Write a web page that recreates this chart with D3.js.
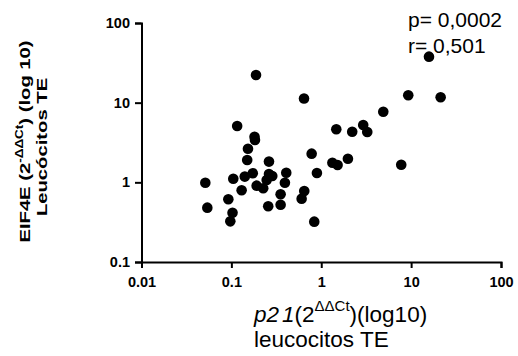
<!DOCTYPE html>
<html>
<head>
<meta charset="utf-8">
<script src="https://cdn.jsdelivr.net/npm/d3@7"></script>
<style>
  html, body { margin: 0; padding: 0; background: #fff; }
  svg { display: block; font-family: "Liberation Sans", Arial, sans-serif; }
</style>
</head>
<body>
<svg id="chart" width="518" height="356"></svg>
<script>
// p21 relative expression (x) and EIF4E relative expression (y), leucocitos TE
const p21 = [15.8, 0.188, 0.643, 9.29, 21.3, 4.90, 0.116, 1.47, 2.21, 2.93, 3.25,
  0.181, 0.183, 0.153, 0.150, 0.782, 0.262, 1.33, 1.52, 1.98, 7.76, 0.895, 0.408,
  0.394, 0.0513, 0.105, 0.141, 0.173, 0.262, 0.285, 0.247, 0.191, 0.226, 0.130,
  0.353, 0.647, 0.605, 0.0925, 0.054, 0.257, 0.353, 0.103, 0.0973, 0.836];
const eif4e = [37.8, 22.2, 11.3, 12.4, 11.7, 7.7, 5.09, 4.63, 4.32, 5.24, 4.28,
  3.74, 3.40, 2.64, 1.91, 2.29, 1.82, 1.76, 1.65, 1.98, 1.66, 1.31, 1.32,
  0.99, 0.99, 1.11, 1.18, 1.30, 1.27, 1.20, 1.07, 0.908, 0.841, 0.794,
  0.708, 0.778, 0.624, 0.612, 0.481, 0.500, 0.524, 0.416, 0.324, 0.321];

const xTicks = [0.01, 0.1, 1, 10, 100];
const xTickLabels = ["0.01", "0.1", "1", "10", "100"];
const yTicks = [0.1, 1, 10, 100];
const yTickLabels = ["0.1", "1", "10", "100"];
const statLines = ["p= 0,0002", "r= 0,501"];

const svg = d3.select("#chart");

const x = d3.scaleLog().domain([0.01, 100]).range([141.5, 501]);
const y = d3.scaleLog().domain([0.1, 100]).range([262, 23]);

// axes
const xAxis = d3.axisBottom(x)
  .tickValues(xTicks)
  .tickFormat((d, i) => xTickLabels[i])
  .tickSizeOuter(0)
  .tickSize(6)
  .tickPadding(8.5);
const yAxis = d3.axisLeft(y)
  .tickValues(yTicks)
  .tickFormat((d, i) => yTickLabels[i])
  .tickSizeOuter(0)
  .tickSize(6.5)
  .tickPadding(5);

function styleAxis(g) {
  g.select(".domain").attr("stroke", "#000").attr("stroke-width", 2);
  g.selectAll(".tick line").attr("stroke", "#000").attr("stroke-width", 2);
  g.selectAll(".tick text")
    .attr("fill", "#000")
    .style("font-family", "'Liberation Sans', Arial, sans-serif")
    .style("font-size", "14.5px")
    .style("font-weight", "bold");
}

svg.append("g")
  .attr("transform", `translate(0,${y.range()[0]})`)
  .call(xAxis)
  .call(styleAxis);

svg.append("g")
  .attr("transform", `translate(${x.range()[0]},0)`)
  .call(yAxis)
  .call(styleAxis);

// scatter points
svg.append("g")
  .selectAll("circle")
  .data(p21.map((v, i) => [v, eif4e[i]]))
  .join("circle")
  .attr("cx", d => x(d[0]))
  .attr("cy", d => y(d[1]))
  .attr("r", 5.3)
  .attr("fill", "#000");

// statistics
const stat = svg.append("text")
  .attr("x", 408)
  .attr("y", 27)
  .style("font-size", "21px")
  .attr("fill", "#000");
stat.selectAll("tspan")
  .data(statLines)
  .join("tspan")
  .attr("x", 408)
  .attr("dy", (d, i) => i === 0 ? 0 : 26)
  .text(d => d);

// x axis title
const xt1 = svg.append("text")
  .attr("x", 254).attr("y", 322)
  .style("font-size", "22.5px")
  .attr("fill", "#000");
xt1.append("tspan").style("font-style", "italic").text("p2");
xt1.append("tspan").style("font-style", "italic").attr("dx", 3).text("1");
xt1.append("tspan").text("(2");
xt1.append("tspan").attr("dy", -11).style("font-size", "15px").text("ΔΔCt");
xt1.append("tspan").attr("dy", 11).text(")(log10)");

svg.append("text")
  .attr("x", 254).attr("y", 347)
  .style("font-size", "22.5px")
  .attr("fill", "#000")
  .text("leucocitos TE");

// y axis title (rotated, elongated along the baseline)
const yt1 = svg.append("text")
  .attr("transform", "translate(29.5,141.5) rotate(-90) scale(1.35,1)")
  .attr("text-anchor", "middle")
  .style("font-size", "15px")
  .style("font-weight", "bold")
  .attr("fill", "#000");
yt1.append("tspan").text("EIF4E (2");
yt1.append("tspan").attr("dy", -6.5).style("font-size", "10px").text("-ΔΔCt");
yt1.append("tspan").attr("dy", 6.5).text(") (log 10)");

svg.append("text")
  .attr("transform", "translate(46.5,147) rotate(-90) scale(1.35,1)")
  .attr("text-anchor", "middle")
  .style("font-size", "15px")
  .style("font-weight", "bold")
  .attr("fill", "#000")
  .text("Leucócitos TE");
</script>
</body>
</html>
